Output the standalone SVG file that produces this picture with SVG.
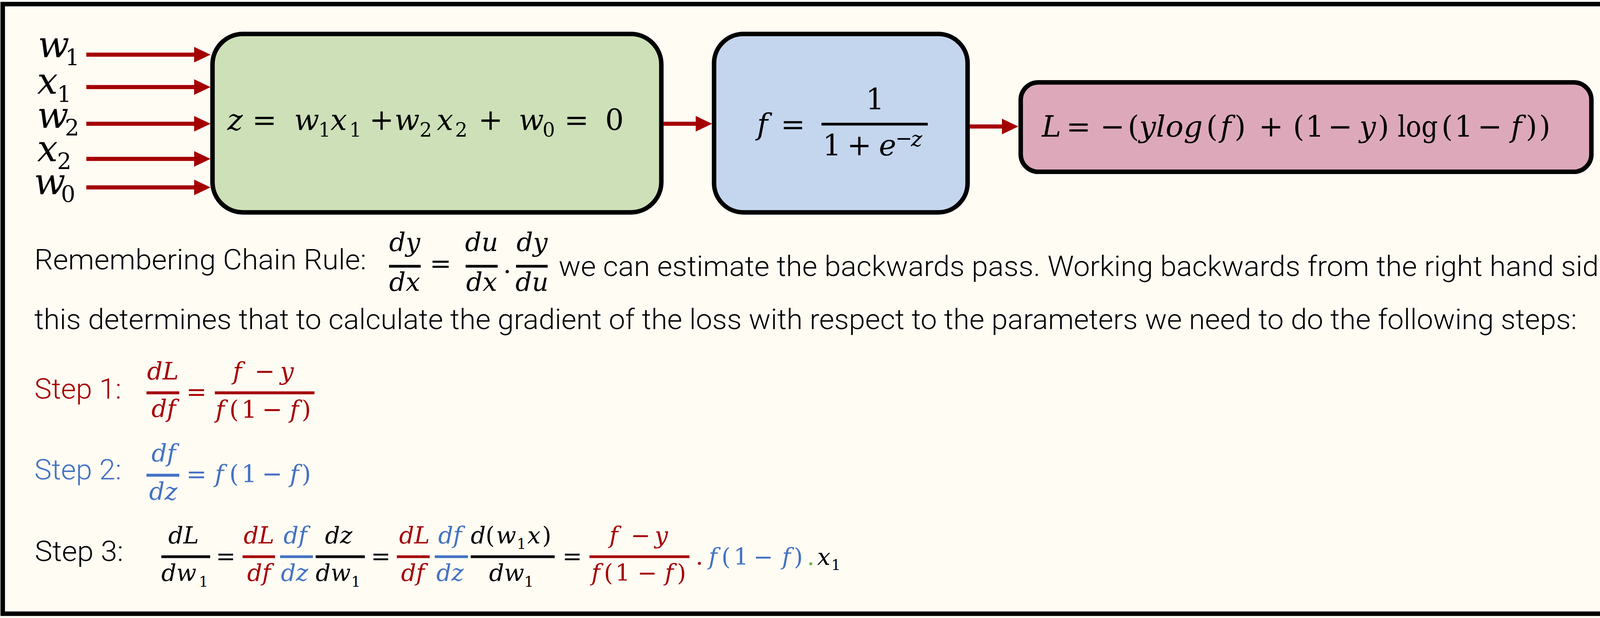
<svg xmlns="http://www.w3.org/2000/svg" width="4250" height="1583" viewBox="0 0 4250 1583">
<defs>
<style>
.bg{fill:#FFFCF4}
.frame{fill:none;stroke:#000;stroke-width:11.5}
.box{stroke:#000;stroke-width:11.5}
.m{font-family:"DejaVu Serif","Liberation Serif",serif;font-style:italic;fill:#000}
.u{font-family:"DejaVu Serif","Liberation Serif",serif;font-style:normal;fill:#000}
.t{font-family:Roboto,"Liberation Sans",Arial,sans-serif;font-weight:300;font-size:72px;fill:#000}
.red{fill:#A50000}
.blue{fill:#4472C4}
.green{fill:#70AD47}
.conn{stroke:#A50000;stroke-width:10.5;fill:none}
.bar{fill:#000}
</style>
<marker id="ah" markerUnits="userSpaceOnUse" markerWidth="42" markerHeight="40" viewBox="0 0 42 40" refX="0" refY="20" orient="auto">
<path d="M0,0 L42,20 L0,40 z" fill="#A50000"/>
</marker>
</defs>
<rect class="bg" x="0" y="0" width="4250" height="1583"/>
<rect class="frame" x="7" y="10.5" width="4232.5" height="1561.5"/>

<g id="input-w1">
<text class="m" x="97" y="147" font-size="94">w</text><text class="u" x="167" y="167" font-size="58">1</text>
</g>
<g id="input-x1">
<text class="m" x="95" y="240" font-size="94">x</text><text class="u" x="146" y="261" font-size="58">1</text>
</g>
<g id="input-w2">
<text class="m" x="95" y="328" font-size="94">w</text><text class="u" x="166" y="347" font-size="58">2</text>
</g>
<g id="input-x2">
<text class="m" x="95" y="413" font-size="94">x</text><text class="u" x="146" y="433" font-size="58">2</text>
</g>
<g id="input-w0">
<text class="m" x="87" y="498" font-size="94">w</text><text class="u" x="156" y="517" font-size="58">0</text>
</g>

<g id="node-linear">
<rect class="box" x="544" y="87" width="1149" height="457" rx="78" ry="78" fill="#CDE0B8"/>
<text class="m" x="582" y="333" font-size="75">z</text>
<text class="u" x="677" y="333" font-size="75" text-anchor="middle">=</text>
<text class="m" x="753" y="333" font-size="75">w</text><text class="u" x="815" y="350" font-size="50">1</text>
<text class="m" x="846" y="333" font-size="75">x</text><text class="u" x="894" y="350" font-size="50">1</text>
<text class="u" x="977" y="333" font-size="75" text-anchor="middle">+</text>
<text class="m" x="1010" y="333" font-size="75">w</text><text class="u" x="1074" y="350" font-size="50">2</text>
<text class="m" x="1118" y="333" font-size="75">x</text><text class="u" x="1165" y="350" font-size="50">2</text>
<text class="u" x="1256" y="333" font-size="75" text-anchor="middle">+</text>
<text class="m" x="1328" y="333" font-size="75">w</text><text class="u" x="1389" y="350" font-size="50">0</text>
<text class="u" x="1476" y="333" font-size="75" text-anchor="middle">=</text>
<text class="u" x="1573" y="333" font-size="75" text-anchor="middle">0</text>
</g>

<g id="node-sigmoid">
<rect class="box" x="1828" y="87" width="649" height="457" rx="75" ry="75" fill="#C4D6EE"/>
<text class="m" x="1938" y="344" font-size="75">f</text>
<text class="u" x="2030" y="344" font-size="75" text-anchor="middle">=</text>
<rect class="bar" x="2103" y="314.5" width="272" height="7"/>
<text class="u" x="2240" y="280" font-size="75" text-anchor="middle">1</text>
<text class="u" x="2106" y="398" font-size="75">1</text>
<text class="u" x="2200" y="398" font-size="75" text-anchor="middle">+</text>
<text class="m" x="2250" y="398" font-size="75">e</text>
<text class="u" x="2292" y="372" font-size="52">−</text><text class="m" x="2332" y="375" font-size="55">z</text>
</g>

<g id="node-loss">
<rect class="box" x="2613" y="211" width="1461" height="229" rx="45" ry="45" fill="#DDA9BA"/>
<text class="m" x="2667" y="350" font-size="75">L</text>
<text class="u" x="2761" y="350" font-size="75" text-anchor="middle">=</text>
<text class="u" x="2848" y="350" font-size="75" text-anchor="middle">−</text>
<text class="u" x="2887" y="350" font-size="75">(</text>
<text class="m" x="2916" y="350" font-size="75" textLength="163" lengthAdjust="spacingAndGlyphs">ylog</text>
<text class="u" x="3088" y="350" font-size="75">(</text>
<text class="m" x="3124" y="350" font-size="75">f</text>
<text class="u" x="3160" y="350" font-size="75">)</text>
<text class="u" x="3254" y="350" font-size="75" text-anchor="middle">+</text>
<text class="u" x="3310" y="350" font-size="75">(</text>
<text class="u" x="3342" y="350" font-size="75">1</text>
<text class="u" x="3431" y="350" font-size="75" text-anchor="middle">−</text>
<text class="m" x="3480" y="350" font-size="75">y</text>
<text class="u" x="3527" y="350" font-size="75">)</text>
<text class="u" x="3578" y="350" font-size="75" textLength="103" lengthAdjust="spacingAndGlyphs">log</text>
<text class="u" x="3690" y="350" font-size="75">(</text>
<text class="u" x="3723" y="350" font-size="75">1</text>
<text class="u" x="3814" y="350" font-size="75" text-anchor="middle">−</text>
<text class="m" x="3868" y="350" font-size="75">f</text>
<text class="u" x="3906" y="350" font-size="75">)</text>
<text class="u" x="3940" y="350" font-size="75">)</text>
</g>

<g id="connectors">
<line class="conn" x1="221" y1="140" x2="497" y2="140" marker-end="url(#ah)"/>
<line class="conn" x1="221" y1="223" x2="497" y2="223" marker-end="url(#ah)"/>
<line class="conn" x1="221" y1="317" x2="497" y2="317" marker-end="url(#ah)"/>
<line class="conn" x1="221" y1="407" x2="497" y2="407" marker-end="url(#ah)"/>
<line class="conn" x1="221" y1="480" x2="497" y2="480" marker-end="url(#ah)"/>
<line class="conn" x1="1699" y1="317" x2="1781" y2="317" marker-end="url(#ah)"/>
<line class="conn" x1="2483" y1="324" x2="2565" y2="324" marker-end="url(#ah)"/>
</g>

<g id="chain-rule-text">
<text class="t" x="88" y="690" textLength="850" lengthAdjust="spacingAndGlyphs">Remembering Chain Rule:</text>
<text class="m" x="1036" y="643" font-size="66" text-anchor="middle">dy</text>
<rect class="bar" x="996" y="678.5" width="81" height="7"/>
<text class="m" x="1036" y="745" font-size="66" text-anchor="middle">dx</text>
<text class="u" x="1128" y="697" font-size="66" text-anchor="middle">=</text>
<text class="m" x="1233" y="643" font-size="66" text-anchor="middle">du</text>
<rect class="bar" x="1192" y="678.5" width="82" height="7"/>
<text class="m" x="1233" y="745" font-size="66" text-anchor="middle">dx</text>
<text class="u" x="1288" y="699" font-size="66">.</text>
<text class="m" x="1362" y="643" font-size="66" text-anchor="middle">dy</text>
<rect class="bar" x="1321" y="678.5" width="81" height="7"/>
<text class="m" x="1362" y="745" font-size="66" text-anchor="middle">du</text>
<text class="t" x="1430" y="707" textLength="2716" lengthAdjust="spacingAndGlyphs">we can estimate the backwards pass. Working backwards from the right hand side,</text>
<text class="t" x="88" y="843" textLength="3949" lengthAdjust="spacingAndGlyphs">this determines that to calculate the gradient of the loss with respect to the parameters we need to do the following steps:</text>
</g>

<g id="step1">
<text class="t red" x="88" y="1021" textLength="223" lengthAdjust="spacingAndGlyphs">Step 1:</text>
<text class="m red" x="417" y="972" font-size="62" text-anchor="middle">dL</text>
<rect class="red" x="375" y="1002.5" width="84" height="7.5"/>
<text class="m red" x="419" y="1068" font-size="62" text-anchor="middle">df</text>
<text class="u red" x="503" y="1025" font-size="62" text-anchor="middle">=</text>
<rect class="red" x="550" y="1002.5" width="255" height="7.5"/>
<text class="m red" x="596" y="972" font-size="62">f</text>
<text class="u red" x="678" y="972" font-size="62" text-anchor="middle">−</text>
<text class="m red" x="717" y="972" font-size="62">y</text>
<text class="m red" x="552" y="1070" font-size="62">f</text>
<text class="u red" x="587" y="1070" font-size="62">(</text>
<text class="u red" x="618" y="1070" font-size="62">1</text>
<text class="u red" x="697" y="1070" font-size="62" text-anchor="middle">−</text>
<text class="m red" x="742" y="1070" font-size="62">f</text>
<text class="u red" x="772" y="1070" font-size="62">)</text>
</g>

<g id="step2">
<text class="t blue" x="88" y="1228" textLength="223" lengthAdjust="spacingAndGlyphs">Step 2:</text>
<text class="m blue" x="419" y="1182" font-size="62" text-anchor="middle">df</text>
<rect class="blue" x="375" y="1213.5" width="84" height="7.5"/>
<text class="m blue" x="418" y="1280" font-size="62" text-anchor="middle">dz</text>
<text class="u blue" x="503" y="1236" font-size="62" text-anchor="middle">=</text>
<text class="m blue" x="550" y="1235" font-size="62">f</text>
<text class="u blue" x="587" y="1235" font-size="62">(</text>
<text class="u blue" x="618" y="1235" font-size="62">1</text>
<text class="u blue" x="697" y="1235" font-size="62" text-anchor="middle">−</text>
<text class="m blue" x="742" y="1235" font-size="62">f</text>
<text class="u blue" x="772" y="1235" font-size="62">)</text>
</g>

<g id="step3">
<text class="t" x="89" y="1437" textLength="227" lengthAdjust="spacingAndGlyphs">Step 3:</text>
<text class="m" x="470" y="1392" font-size="60" text-anchor="middle">dL</text>
<rect class="bar" x="413" y="1422.5" width="125" height="7"/>
<text class="m" x="413" y="1488" font-size="60">dw</text><text class="u" x="509" y="1503" font-size="38">1</text>
<text class="u" x="578" y="1445" font-size="60" text-anchor="middle">=</text>
<text class="m red" x="663" y="1392" font-size="60" text-anchor="middle">dL</text>
<rect class="red" x="621" y="1422.5" width="83" height="7"/>
<text class="m red" x="663" y="1488" font-size="60" text-anchor="middle">df</text>
<text class="m blue" x="756" y="1392" font-size="60" text-anchor="middle">df</text>
<rect class="blue" x="717" y="1422.5" width="84" height="7"/>
<text class="m blue" x="754" y="1488" font-size="60" text-anchor="middle">dz</text>
<text class="m" x="867" y="1392" font-size="60" text-anchor="middle">dz</text>
<rect class="bar" x="808" y="1422.5" width="126" height="7"/>
<text class="m" x="808" y="1488" font-size="60">dw</text><text class="u" x="899" y="1503" font-size="38">1</text>
<text class="u" x="975" y="1445" font-size="60" text-anchor="middle">=</text>
<text class="m red" x="1061" y="1392" font-size="60" text-anchor="middle">dL</text>
<rect class="red" x="1016" y="1422.5" width="84" height="7"/>
<text class="m red" x="1057" y="1488" font-size="60" text-anchor="middle">df</text>
<text class="m blue" x="1152" y="1392" font-size="60" text-anchor="middle">df</text>
<rect class="blue" x="1113" y="1422.5" width="85" height="7"/>
<text class="m blue" x="1152" y="1488" font-size="60" text-anchor="middle">dz</text>
<text class="m" x="1205" y="1392" font-size="60">d</text>
<text class="u" x="1243" y="1392" font-size="60">(</text>
<text class="m" x="1270" y="1392" font-size="60">w</text><text class="u" x="1323" y="1406" font-size="38">1</text>
<text class="m" x="1350" y="1392" font-size="60">x</text>
<text class="u" x="1388" y="1392" font-size="60">)</text>
<rect class="bar" x="1205" y="1422.5" width="215" height="7"/>
<text class="m" x="1252" y="1488" font-size="60">dw</text><text class="u" x="1342" y="1503" font-size="38">1</text>
<text class="u" x="1465" y="1445" font-size="60" text-anchor="middle">=</text>
<text class="m red" x="1560" y="1392" font-size="60">f</text>
<text class="u red" x="1640" y="1392" font-size="60" text-anchor="middle">−</text>
<text class="m red" x="1676" y="1392" font-size="60">y</text>
<rect class="red" x="1509" y="1422.5" width="256" height="7"/>
<text class="m red" x="1514" y="1488" font-size="60">f</text>
<text class="u red" x="1546" y="1488" font-size="60">(</text>
<text class="u red" x="1575" y="1488" font-size="60">1</text>
<text class="u red" x="1657" y="1488" font-size="60" text-anchor="middle">−</text>
<text class="m red" x="1702" y="1488" font-size="60">f</text>
<text class="u red" x="1733" y="1488" font-size="60">)</text>
<text class="u red" x="1781" y="1446" font-size="60">.</text>
<text class="m blue" x="1814" y="1447" font-size="60">f</text>
<text class="u blue" x="1847" y="1447" font-size="60">(</text>
<text class="u blue" x="1878" y="1447" font-size="60">1</text>
<text class="u blue" x="1954" y="1447" font-size="60" text-anchor="middle">−</text>
<text class="m blue" x="2002" y="1447" font-size="60">f</text>
<text class="u blue" x="2032" y="1447" font-size="60">)</text>
<text class="u green" x="2066" y="1447" font-size="60">.</text>
<text class="m" x="2092" y="1447" font-size="60">x</text><text class="u" x="2128" y="1460" font-size="38">1</text>
</g>
</svg>
